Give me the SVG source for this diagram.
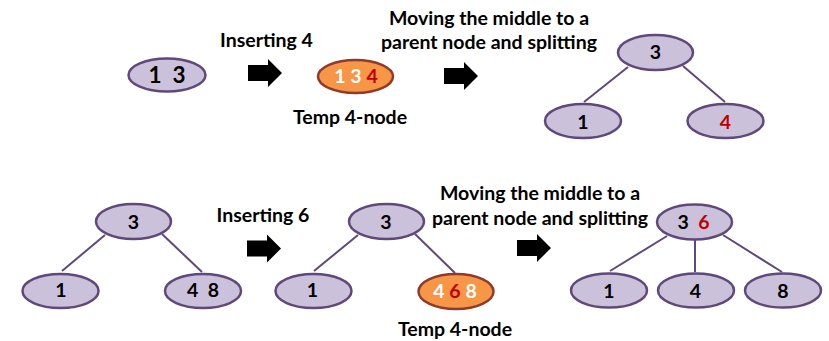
<svg xmlns="http://www.w3.org/2000/svg" width="829" height="341" viewBox="0 0 829 341">
  <defs>
    <style>
      .n { fill: #CCC1DA; stroke: #5F497A; stroke-width: 2.5; }
      .o { fill: #F79646; stroke: #8E3B2B; stroke-width: 2.5; }
      .e { stroke: #5F497A; stroke-width: 2; fill: none; }
      .t { font-family: Lato, "Liberation Sans", sans-serif; font-weight: bold; text-anchor: middle; fill: #000; white-space: pre; }
      .d { font-size: 19.5px; }
      .lbl { font-size: 19.5px; }
      .w { fill: #FFFFFF; }
      .r { fill: #C00000; }
      .arrow { fill: #000; }
    </style>
    <path id="arr" d="M248,65 H268 V59 L282,73 L268,87 V81 H248 Z"/>
  </defs>
  <rect width="829" height="341" fill="#FFFFFF"/>

  <g id="connectors">
    <line class="e" x1="628" y1="67" x2="584" y2="102"/>
    <line class="e" x1="683" y1="66" x2="725" y2="102"/>
    <line class="e" x1="105" y1="235" x2="62" y2="271"/>
    <line class="e" x1="162" y1="234" x2="202" y2="272"/>
    <line class="e" x1="358" y1="235" x2="314" y2="271"/>
    <line class="e" x1="415" y1="234" x2="455" y2="273"/>
    <line class="e" x1="667" y1="236" x2="610" y2="271"/>
    <line class="e" x1="695" y1="240" x2="695" y2="272"/>
    <line class="e" x1="723" y1="235" x2="782" y2="272"/>
  </g>

  <g id="arrows">
    <use href="#arr" class="arrow"/>
    <use href="#arr" class="arrow" transform="translate(196,3)"/>
    <use href="#arr" class="arrow" transform="translate(-1,175.5)"/>
    <use href="#arr" class="arrow" transform="translate(269,175)"/>
  </g>

  <g id="labels">
    <text class="t lbl" x="266.5" y="47">Inserting 4</text>
    <text class="t lbl" x="350" y="124">Temp 4-node</text>
    <text class="t lbl" x="489" y="25">Moving the middle to a</text>
    <text class="t lbl" x="489" y="49">parent node and splitting</text>
    <text class="t lbl" x="263" y="222">Inserting 6</text>
    <text class="t lbl" x="455" y="336">Temp 4-node</text>
    <text class="t lbl" x="540" y="200">Moving the middle to a</text>
    <text class="t lbl" x="540" y="225">parent node and splitting</text>
  </g>

  <g id="node-13">
    <ellipse class="n" cx="167" cy="75" rx="38.5" ry="16.5"/>
    <text class="t" x="167" y="83" style="font-size:22.5px">1  3</text>
  </g>
  <g id="node-134-temp">
    <ellipse class="o" cx="355.5" cy="76.5" rx="37.5" ry="16.5"/>
    <text class="t d" x="356" y="83"><tspan class="w">1 3 </tspan><tspan class="r">4</tspan></text>
  </g>

  <g id="tree1-root">
    <ellipse class="n" cx="655.5" cy="52.5" rx="37.5" ry="17.5"/>
    <text class="t d" x="655.5" y="59">3</text>
  </g>
  <g id="tree1-left">
    <ellipse class="n" cx="583" cy="121" rx="38" ry="17"/>
    <text class="t d" x="583" y="129">1</text>
  </g>
  <g id="tree1-right">
    <ellipse class="n" cx="725.5" cy="121" rx="38" ry="17"/>
    <text class="t d r" x="725.5" y="129">4</text>
  </g>

  <g id="tree2-root">
    <ellipse class="n" cx="133.5" cy="221.5" rx="37.5" ry="17.5"/>
    <text class="t d" x="133.5" y="229">3</text>
  </g>
  <g id="tree2-left">
    <ellipse class="n" cx="60.5" cy="291" rx="38" ry="17"/>
    <text class="t d" x="61" y="297">1</text>
  </g>
  <g id="tree2-right">
    <ellipse class="n" cx="203" cy="291" rx="38" ry="17"/>
    <text class="t d" x="203" y="297">4  8</text>
  </g>

  <g id="tree3-root">
    <ellipse class="n" cx="386.5" cy="221.5" rx="37.5" ry="17.5"/>
    <text class="t d" x="386" y="229">3</text>
  </g>
  <g id="tree3-left">
    <ellipse class="n" cx="313.5" cy="291" rx="38" ry="17"/>
    <text class="t d" x="312.5" y="297">1</text>
  </g>
  <g id="tree3-right-temp">
    <ellipse class="o" cx="456" cy="291.5" rx="37.5" ry="17.5"/>
    <text class="t d" x="455" y="298"><tspan class="w">4 </tspan><tspan class="r">6</tspan><tspan class="w"> 8</tspan></text>
  </g>

  <g id="tree4-root">
    <ellipse class="n" cx="694.5" cy="222" rx="37.5" ry="17.5"/>
    <text class="t d" x="693.5" y="229">3  <tspan class="r">6</tspan></text>
  </g>
  <g id="tree4-left">
    <ellipse class="n" cx="609" cy="290.5" rx="38" ry="17"/>
    <text class="t d" x="609" y="298">1</text>
  </g>
  <g id="tree4-mid">
    <ellipse class="n" cx="696" cy="290.5" rx="38" ry="17"/>
    <text class="t d" x="695.5" y="298">4</text>
  </g>
  <g id="tree4-right">
    <ellipse class="n" cx="783" cy="290.5" rx="38" ry="17"/>
    <text class="t d" x="783" y="298">8</text>
  </g>
</svg>
